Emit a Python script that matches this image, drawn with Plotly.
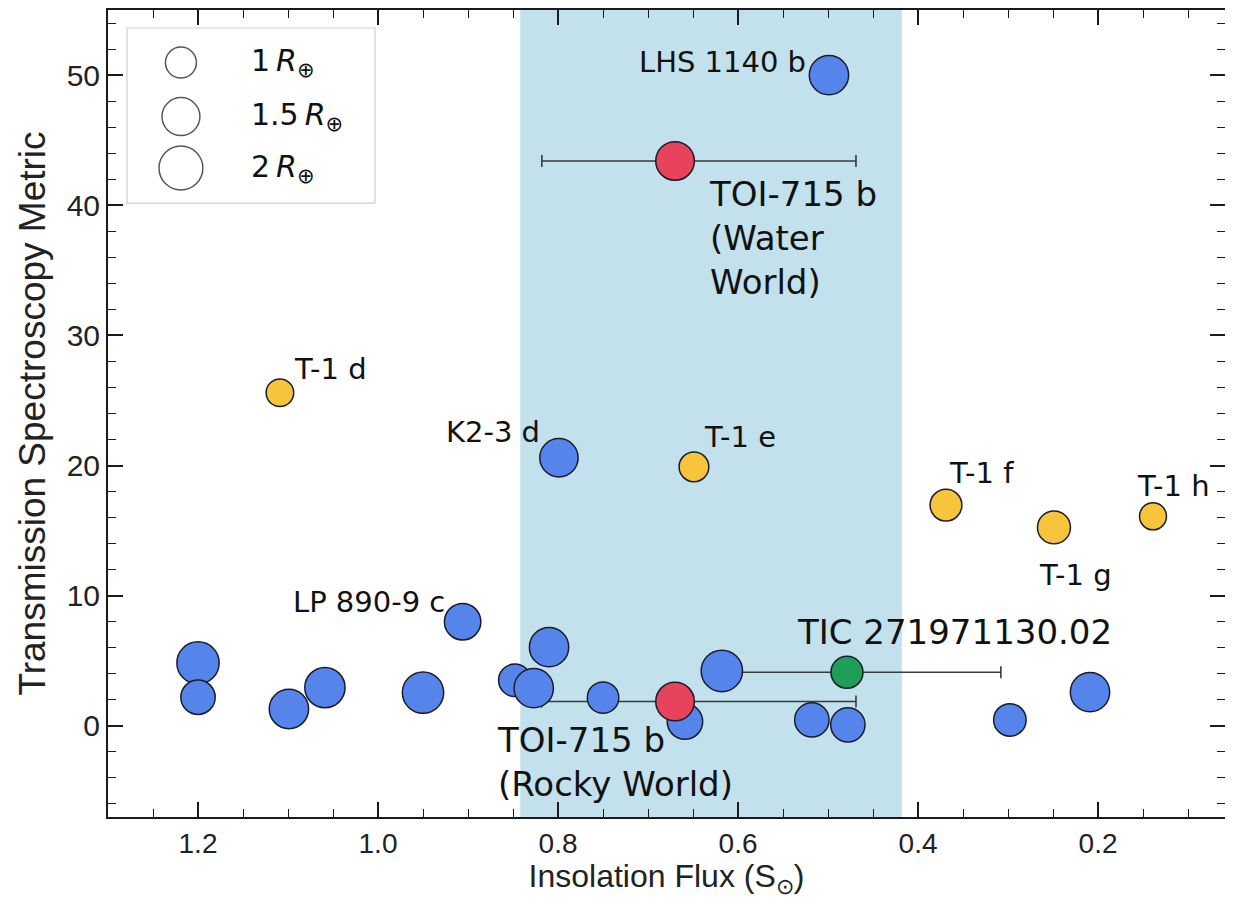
import numpy as np
import plotly.graph_objects as go

# ---------------- data ----------------
blue_flux = [0.499, 0.799, 0.906, 1.200, 1.200, 1.099, 1.059, 0.950, 0.848, 0.827,
             0.810, 0.750, 0.659, 0.618, 0.518, 0.478, 0.298, 0.209]
blue_tsm = [50.0, 20.6, 8.0, 4.84, 2.2, 1.3, 2.94, 2.56, 3.5, 2.9,
            6.05, 2.17, 0.33, 4.22, 0.46, 0.08, 0.46, 2.59]
blue_radius = [1.61, 1.53, 1.38, 1.86, 1.23, 1.61, 1.69, 1.78, 1.10, 1.61,
               1.61, 1.03, 1.31, 1.78, 1.23, 1.23, 1.10, 1.61]

yellow_flux = [1.109, 0.649, 0.369, 0.249, 0.139]
yellow_tsm = [25.6, 19.9, 16.96, 15.25, 16.1]
yellow_radius = [0.79, 0.92, 1.05, 1.13, 0.76]

toi_flux = [0.670, 0.670]
toi_tsm = [43.4, 1.87]
toi_radius = [1.55, 1.55]
toi_err_plus = [0.148, 0.148]
toi_err_minus = [0.201, 0.201]

tic_flux = [0.479]
tic_tsm = [4.12]
tic_radius = [1.07]
tic_err_plus = [0.14]
tic_err_minus = [0.171]

hz_flux = [0.842, 0.418]

legend_radius = [1.0, 1.5, 2.0]
legend_labels = ["1\u2009<i>R</i><sub>\u2295</sub>",
                 "1.5\u2009<i>R</i><sub>\u2295</sub>",
                 "2\u2009<i>R</i><sub>\u2295</sub>"]

x_tickvals = [1.2, 1.0, 0.8, 0.6, 0.4, 0.2]
y_tickvals = [0, 10, 20, 30, 40, 50]


def msize(radii):
    return [31.0 * np.sqrt(r) for r in radii]


EDGE = dict(color="#1b1b2b", width=1.5)
BLUE = "#5585ea"
YELLOW = "#f6c53c"
RED = "#e8435c"
GREEN = "#1f9e58"
ERR = "#3a3a3a"

fig = go.Figure()

# error bars first (beneath all markers)
fig.add_trace(go.Scatter(
    x=toi_flux, y=toi_tsm, mode="markers",
    marker=dict(size=2, opacity=0),
    error_x=dict(type="data", symmetric=False, array=toi_err_plus,
                 arrayminus=toi_err_minus, color=ERR, thickness=1.6, width=6),
    hoverinfo="skip", showlegend=False))
fig.add_trace(go.Scatter(
    x=tic_flux, y=tic_tsm, mode="markers",
    marker=dict(size=2, opacity=0),
    error_x=dict(type="data", symmetric=False, array=tic_err_plus,
                 arrayminus=tic_err_minus, color=ERR, thickness=1.6, width=6),
    hoverinfo="skip", showlegend=False))

fig.add_trace(go.Scatter(
    x=blue_flux, y=blue_tsm, mode="markers",
    marker=dict(size=msize(blue_radius), color=BLUE, line=EDGE, opacity=1),
    showlegend=False))
fig.add_trace(go.Scatter(
    x=yellow_flux, y=yellow_tsm, mode="markers",
    marker=dict(size=msize(yellow_radius), color=YELLOW, line=EDGE, opacity=1),
    showlegend=False))
fig.add_trace(go.Scatter(
    x=toi_flux, y=toi_tsm, mode="markers",
    marker=dict(size=msize(toi_radius), color=RED, line=EDGE, opacity=1),
    showlegend=False))
fig.add_trace(go.Scatter(
    x=tic_flux, y=tic_tsm, mode="markers",
    marker=dict(size=msize(tic_radius), color=GREEN, line=EDGE, opacity=1),
    showlegend=False))

# size legend on an overlay axis in [0,1] units
leg_y = [0.9348, 0.8679, 0.8042]
fig.add_trace(go.Scatter(
    x=[0.0653] * 3, y=leg_y, mode="markers", xaxis="x2", yaxis="y2",
    marker=dict(size=msize(legend_radius), color="white",
                line=dict(color="#111111", width=1.5)),
    hoverinfo="skip", showlegend=False))

# habitable-zone band
fig.add_shape(type="rect", xref="x", yref="paper", x0=hz_flux[0], x1=hz_flux[1],
              y0=0, y1=1, fillcolor="#c2e1ec", line_width=0, layer="below")
# legend box
fig.add_shape(type="rect", xref="paper", yref="paper", x0=0.0170, x1=0.2390,
              y0=0.7608, y1=0.9777, fillcolor="white",
              line=dict(color="#cfcfcf", width=1.2), layer="below")

LBL = "DejaVu Sans"
labels = [
    ("LHS 1140 b", 0.522, 51.0, "right", 29),
    ("K2-3 d", 0.818, 22.6, "right", 29),
    ("LP 890-9 c", 0.923, 9.5, "right", 29),
    ("T-1 d", 1.096, 27.4, "left", 29),
    ("T-1 e", 0.640, 22.2, "left", 29),
    ("T-1 f", 0.368, 19.45, "left", 29),
    ("T-1 g", 0.268, 11.6, "left", 29),
    ("T-1 h", 0.159, 18.4, "left", 29),
    ("TIC 271971130.02", 0.537, 7.2, "left", 34),
    ("TOI-715 b<br>(Water<br>World)", 0.634, 37.5, "left", 34),
    ("TOI-715 b<br>(Rocky World)", 0.870, -2.76, "left", 34),
]
for txt, lx, ly, anc, fs in labels:
    fig.add_annotation(x=lx, y=ly, xref="x", yref="y", text=txt, showarrow=False,
                       xanchor=anc, yanchor="middle", align="left",
                       font=dict(family=LBL, size=fs, color="#111111"))

for lab, yy in zip(legend_labels, leg_y):
    fig.add_annotation(x=0.1262, y=yy, xref="paper", yref="paper", text=lab,
                       showarrow=False, xanchor="left", yanchor="middle",
                       font=dict(family=LBL, size=30, color="#111111"))

AX = "Liberation Sans"
axis_common = dict(showline=True, linecolor="#1a1a1a", linewidth=2, mirror="ticks",
                   ticks="inside", ticklen=15, tickwidth=1.6, tickcolor="#1a1a1a",
                   showgrid=False, zeroline=False, automargin=False)

# page body adds an 8 px margin, so the figure is 16 px smaller than the window
fig.update_layout(
    width=1217, height=891,
    margin=dict(l=100, r=0, t=2, b=82),
    paper_bgcolor="white", plot_bgcolor="white",
    xaxis=dict(range=[1.3, 0.059], tickvals=x_tickvals, tickformat=".1f",
               tickfont=dict(family=AX, size=28, color="#222222"),
               minor=dict(dtick=0.05, ticks="inside", ticklen=8, tickwidth=1.4,
                          tickcolor="#1a1a1a", showgrid=False),
               title=dict(text="Insolation Flux (S<sub>\u2299</sub>)",
                          font=dict(family=AX, size=32, color="#222222"), standoff=12),
               **axis_common),
    yaxis=dict(range=[-7, 55], tickvals=y_tickvals,
               tickfont=dict(family=AX, size=30, color="#222222"),
               minor=dict(dtick=2, ticks="inside", ticklen=8, tickwidth=1.4,
                          tickcolor="#1a1a1a", showgrid=False),
               title=dict(text="Transmission Spectroscopy Metric",
                          font=dict(family=AX, size=37, color="#222222"), standoff=10),
               **axis_common),
    xaxis2=dict(overlaying="x", range=[0, 1], visible=False, fixedrange=True),
    yaxis2=dict(overlaying="y", range=[0, 1], visible=False, fixedrange=True),
    showlegend=False,
)

fig.write_html("out.html")
